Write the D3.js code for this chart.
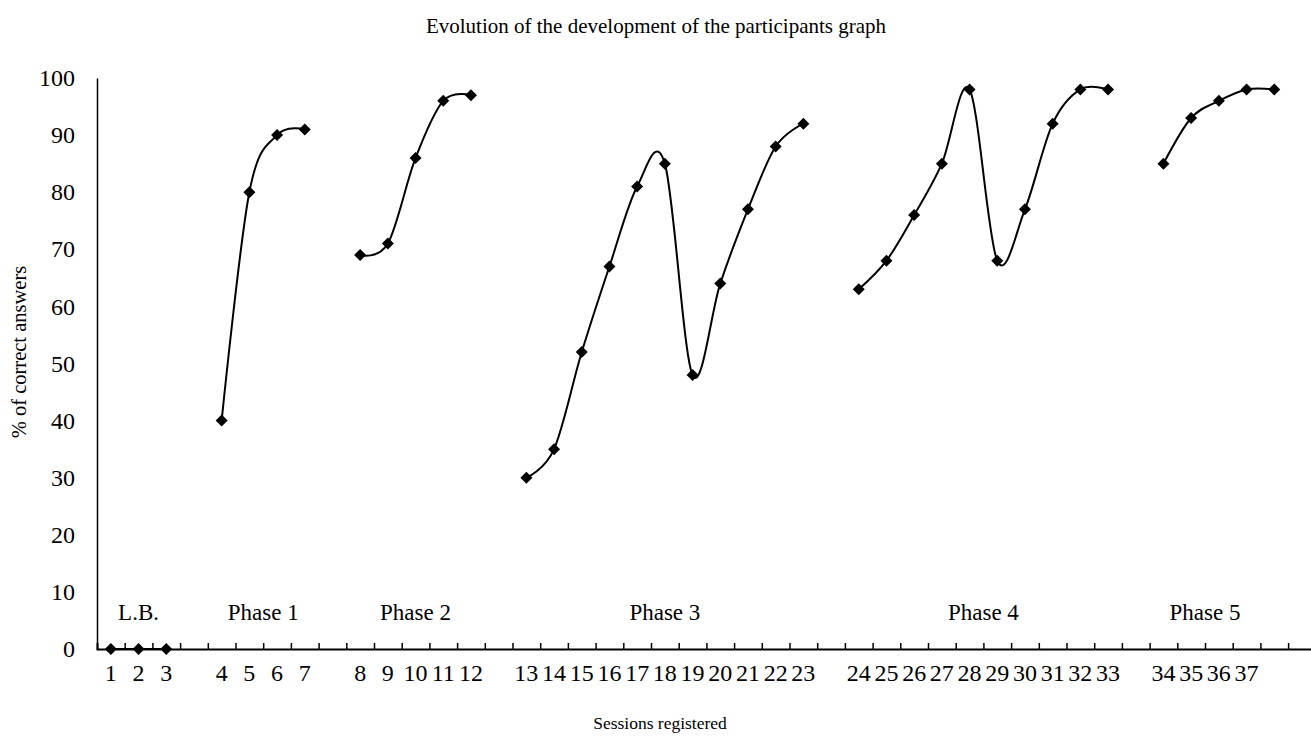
<!DOCTYPE html>
<html>
<head>
<meta charset="utf-8">
<script src="https://cdn.jsdelivr.net/npm/d3@7"></script>
<style>
  body { margin: 0; background: #fff; }
  svg { display: block; font-family: "Liberation Serif", "Times New Roman", serif; }
</style>
</head>
<body>
<svg id="chart" width="1311" height="736"></svg>
<script>
// phase names and the sessions each phase covers ("" = unlabeled session slot)
const phaseNames = ["L.B.", "Phase 1", "Phase 2", "Phase 3", "Phase 4", "Phase 5"];
const lbSessions = ["1", "2", "3"];
const phase1Sessions = ["4", "5", "6", "7"];
const phase2Sessions = ["8", "9", "10", "11", "12"];
const phase3Sessions = ["13", "14", "15", "16", "17", "18", "19", "20", "21", "22", "23"];
const phase4Sessions = ["24", "25", "26", "27", "28", "29", "30", "31", "32", "33"];
const phase5Sessions = ["34", "35", "36", "37", ""];

// % of correct answers per session
const lbValues = [0, 0, 0];
const phase1Values = [40, 80, 90, 91];
const phase2Values = [69, 71, 86, 96, 97];
const phase3Values = [30, 35, 52, 67, 81, 85, 48, 64, 77, 88, 92];
const phase4Values = [63, 68, 76, 85, 98, 68, 77, 92, 98, 98];
const phase5Values = [85, 93, 96, 98, 98];

const yTicks = [0, 10, 20, 30, 40, 50, 60, 70, 80, 90, 100];

const sessionsByPhase = [lbSessions, phase1Sessions, phase2Sessions, phase3Sessions, phase4Sessions, phase5Sessions];
const valuesByPhase = [lbValues, phase1Values, phase2Values, phase3Values, phase4Values, phase5Values];

// each phase is followed by one empty category slot
const domain = [];
const labelOf = {};
const phases = phaseNames.map((name, p) => {
    const pts = sessionsByPhase[p].map((s, i) => {
        const key = `p${p}-${i}`;
        domain.push(key);
        labelOf[key] = s;
        return {key: key, label: s, value: valuesByPhase[p][i]};
    });
    const gapKey = `gap${p}`;
    domain.push(gapKey);
    labelOf[gapKey] = "";
    return {name: name, pts: pts};
});

const svg = d3.select("#chart");
const plotLeft = 97, slot = 27.7;
const plotRight = plotLeft + slot * domain.length;
const plotTop = 78, plotBottom = 649;

const x = d3.scaleBand().domain(domain).range([plotLeft, plotRight]).padding(0);
const xEdge = d3.scaleLinear().domain([0, domain.length]).range([plotLeft, plotRight]);
const y = d3.scaleLinear().domain([0, 100]).range([plotBottom, plotTop]);

// title
svg.append("text")
    .attr("x", 656).attr("y", 33)
    .attr("text-anchor", "middle")
    .style("font-size", "21px")
    .text("Evolution of the development of the participants graph");

// y axis
const gY = svg.append("g")
    .attr("transform", `translate(${plotLeft},0)`)
    .call(d3.axisLeft(y).tickValues(yTicks).tickSize(0).tickPadding(22));
gY.select(".domain").attr("stroke", "#000").attr("stroke-width", 1.5);
gY.selectAll("text").style("font-size", "24px").style("font-family", "Liberation Serif").attr("fill", "#000");

// x axis: tick marks between categories
const gX = svg.append("g")
    .attr("transform", `translate(0,${plotBottom})`)
    .call(d3.axisBottom(xEdge).tickValues(d3.range(1, domain.length + 1)).tickSize(-6).tickFormat(""));
gX.select(".domain").attr("stroke", "#000").attr("stroke-width", 2);
gX.selectAll(".tick line").attr("stroke", "#000").attr("stroke-width", 1.5);

const gXL = svg.append("g")
    .attr("transform", `translate(0,${plotBottom})`)
    .call(d3.axisBottom(x).tickSize(0).tickPadding(15).tickFormat(k => labelOf[k]));
gXL.select(".domain").remove();
gXL.selectAll("text").style("font-size", "24px").style("font-family", "Liberation Serif").attr("fill", "#000");

// axis titles
svg.append("text")
    .attr("transform", `translate(26,352) rotate(-90)`)
    .attr("text-anchor", "middle")
    .style("font-size", "20.5px")
    .text("%  of correct answers");

svg.append("text")
    .attr("x", 660).attr("y", 729)
    .attr("text-anchor", "middle")
    .style("font-size", "17.5px")
    .text("Sessions registered");

// phase labels, centred over the labelled sessions of each phase
phases.forEach(ph => {
    const labelled = ph.pts.filter(d => d.label !== "");
    const cx = d3.mean(labelled, d => x(d.key) + x.bandwidth() / 2);
    svg.append("text")
        .attr("x", cx).attr("y", 620)
        .attr("text-anchor", "middle")
        .style("font-size", "23px")
        .text(ph.name);
});

// smoothed lines per phase
const line = d3.line()
    .x(d => x(d.key) + x.bandwidth() / 2)
    .y(d => y(d.value))
    .curve(d3.curveCardinal.tension(0));

svg.append("g").selectAll("path")
    .data(phases)
    .join("path")
    .attr("d", d => line(d.pts))
    .attr("fill", "none")
    .attr("stroke", "#000")
    .attr("stroke-width", 2);

// diamond markers
const diamond = d3.symbol().type(d3.symbolSquare).size(72);
svg.append("g").selectAll("path")
    .data(phases.flatMap(p => p.pts))
    .join("path")
    .attr("d", diamond)
    .attr("transform", d => `translate(${x(d.key) + x.bandwidth() / 2},${y(d.value)}) rotate(45)`)
    .attr("fill", "#000");
</script>
</body>
</html>
